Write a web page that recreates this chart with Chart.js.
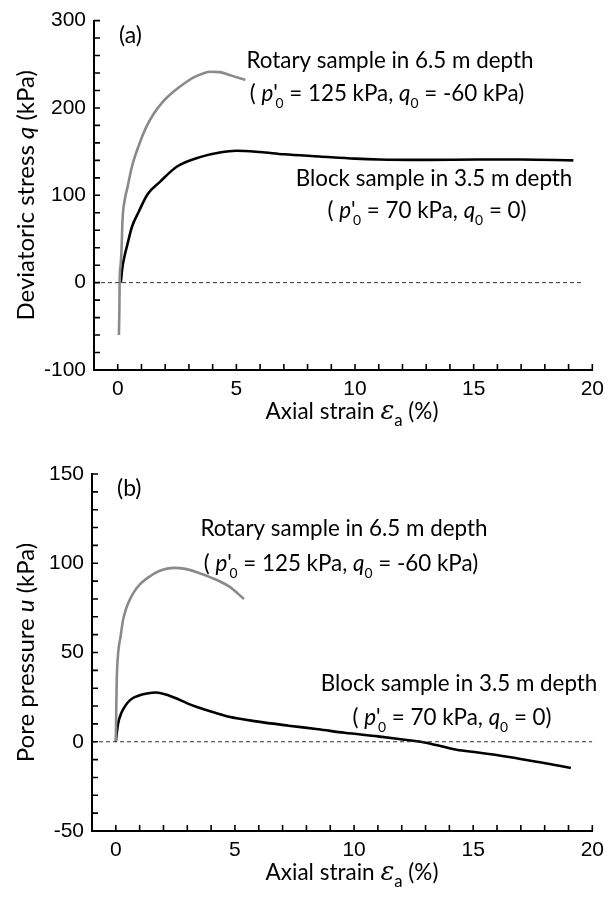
<!DOCTYPE html>
<html><head><meta charset="utf-8">
<script src="https://cdn.jsdelivr.net/npm/chart.js@4"></script>
<style>html,body{margin:0;padding:0;background:#fff;} canvas{display:block;}</style>
</head><body>
<canvas id="c1" width="611" height="440"></canvas>
<canvas id="c2" width="611" height="459"></canvas>
<script>
// ---------- DATA ----------
// (a) deviatoric stress q (kPa) vs axial strain (%)
const rotaryStrainQ = [0.05,0.07,0.08,0.12,0.16,0.2,0.29,0.41,0.6,0.9,1.2,1.53,1.9,2.37,2.8,3.2,3.6,3.9,4.3,4.8,5.38];
const rotaryQ       = [-60,-30,0,20,37,71,94,109,133,158,178,194,207,219,228,235,239.5,241.5,241,237,232];
const blockStrainQ  = [0.13,0.2,0.3,0.41,0.6,0.9,1.25,1.8,2.5,3.5,4.3,5.0,6.0,7.0,8.5,10,11,13,15.2,17,19.2];
const blockQ        = [0,18,32,44,64,82,101,116,133,144,149,151,149.5,147,144.5,142,141,140.5,141,141,140];
// (b) pore pressure u (kPa) vs axial strain (%)
const rotaryStrainU = [0,0.02,0.04,0.1,0.2,0.3,0.375,0.5,0.72,1.0,1.42,1.8,2.15,2.5,2.85,3.4,4.05,4.75,5.38];
const rotaryU       = [0,20,35,50,59,68,72,77,83,88,92.6,95.5,97,97.4,97,95,91.7,87,80];
const blockStrainU  = [0,0.05,0.1,0.2,0.3,0.5,0.72,1.0,1.3,1.7,2.1,2.5,3.0,3.5,4.1,4.75,5.9,7.25,8.5,9.6,11,12.2,12.8,13.5,14.3,15.2,16.5,17.8,19.1];
const blockU        = [0,6,10.5,15,18,22,24.5,26,27,27.6,26.5,24.5,21.5,19,16.5,14,11.4,9,7,5,3,1,0,-2,-4.5,-6,-8.5,-11.5,-14.7];
// axis ranges / ticks
const strainRange = [-1, 20];
const strainMajor = [0, 5, 10, 15, 20];
const qRange = [-100, 300];
const qMajor = [-100, 0, 100, 200, 300];
const uRange = [-50, 150];
const uMajor = [-50, 0, 50, 100, 150];
const zeroLineA = [-1, 19.6];
const zeroLineB = [-1, 20];

// ---------- HELPERS ----------
const zip = (xs, ys) => xs.map((x, i) => ({x, y: ys[i]}));
const ANN = 'Lato';

function drawRich(ctx, segs, cx, cy, size, fam, rotate) {
  const parts = segs.map(s => {
    const sz = (s.sub ? size * 0.62 : size) * (s.k || 1);
    const font = (s.it ? 'italic ' : '') + sz + 'px "' + (s.fam || fam) + '"';
    ctx.font = font;
    return Object.assign({}, s, {font, w: ctx.measureText(s.t).width});
  });
  let x = 0, prevW = 0; const pos = [];
  parts.forEach(p => {
    let px = x;
    if (p.back) { px = x - prevW * 0.55; x = Math.max(x, px + p.w); }
    else x += p.w;
    pos.push(px); prevW = p.w;
  });
  ctx.save();
  ctx.translate(cx, cy);
  if (rotate) ctx.rotate(-Math.PI / 2);
  ctx.fillStyle = '#000';
  ctx.textBaseline = 'alphabetic';
  ctx.textAlign = 'left';
  const x0 = -x / 2, base = size * 0.35;
  parts.forEach((p, i) => {
    ctx.font = p.font;
    ctx.fillText(p.t, x0 + pos[i], base + (p.sub ? size * 0.32 : 0));
  });
  ctx.restore();
}

function line2(p0, q0) {
  return [{t: '( '}, {t: 'p', it: true}, {t: "'"}, {t: '0', sub: true, back: true},
          {t: ' = ' + p0 + ', '}, {t: 'q', it: true}, {t: '0', sub: true}, {t: ' = ' + q0 + ')'}];
}

function makeChart(id, cfg) {
  const tickPlugin = {
    id: 'deco',
    afterDraw(chart) {
      const {ctx, chartArea: a, scales: {x, y}} = chart;
      ctx.save();
      ctx.strokeStyle = '#000';
      ctx.lineWidth = 1.6;
      ctx.beginPath();
      x.ticks.forEach(t => {
        if (t.value <= x.min) return;
        const px = x.getPixelForValue(t.value);
        ctx.moveTo(px, a.bottom); ctx.lineTo(px, a.bottom - 6);
      });
      y.ticks.forEach(t => {
        if (t.value <= y.min) return;
        const py = y.getPixelForValue(t.value);
        ctx.moveTo(a.left, py); ctx.lineTo(a.left + 6, py);
      });
      ctx.stroke();
      ctx.restore();
      // panel label
      ctx.save();
      ctx.fillStyle = '#000';
      ctx.font = '23px "' + ANN + '"';
      ctx.textBaseline = 'middle';
      ctx.fillText(cfg.panel, a.left + 25, a.top + 15);
      ctx.restore();
      // annotations
      cfg.notes.forEach(n => drawRich(ctx, n.segs, n.cx, n.cy, 22.4, ANN, false));
      // axis titles
      drawRich(ctx, [{t: 'Axial strain '}, {t: 'ε', it: true, fam: 'DejaVu Serif', k: 1.15}, {t: 'a', sub: true, k: 1.2}, {t: ' (%)'}],
               352, a.bottom + 41, 22.5, ANN, false);
      drawRich(ctx, cfg.ytitle, 26, (a.top + a.bottom) / 2, 24, ANN, true);
    }
  };
  const H = document.getElementById(id).height;
  return new Chart(document.getElementById(id), {
    type: 'line',
    data: {datasets: cfg.datasets},
    options: {
      responsive: false, animation: false,
      layout: {padding: {left: 0, right: 611 - cfg.area.right, top: cfg.area.top, bottom: 0}},
      plugins: {legend: {display: false}, tooltip: {enabled: false}},
      elements: {point: {radius: 0}},
      scales: {
        x: {
          type: 'linear', min: strainRange[0], max: strainRange[1],
          afterFit: s => { s.height = H - cfg.area.bottom; },
          grid: {display: false, drawTicks: false},
          border: {display: true, color: '#000', width: 2},
          ticks: {stepSize: 1, autoSkip: false, maxRotation: 0, minRotation: 0, padding: 7,
                  color: '#000', font: {family: 'Liberation Sans', size: 21},
                  callback: v => strainMajor.includes(v) ? String(v) : ''}
        },
        y: {
          type: 'linear', min: cfg.yRange[0], max: cfg.yRange[1],
          afterFit: s => { s.width = cfg.area.left; },
          grid: {display: false, drawTicks: false},
          border: {display: true, color: '#000', width: 2},
          ticks: {stepSize: cfg.yStep, autoSkip: false, padding: 8,
                  color: '#000', font: {family: 'Liberation Sans', size: 21},
                  callback: v => cfg.yMajor.includes(v) ? String(v) : ''}
        }
      }
    },
    plugins: [tickPlugin]
  });
}

const GRAY = '#8a8a8a';
const lineDs = (data, color) => ({data, borderColor: color, borderWidth: 2.6, fill: false,
  cubicInterpolationMode: 'monotone', pointRadius: 0});
const dashDs = xs => ({data: xs.map(x => ({x, y: 0})), borderColor: '#333', borderWidth: 1,
  borderDash: [4, 3], pointRadius: 0, fill: false});

makeChart('c1', {
  area: {left: 94, right: 593, top: 18, bottom: 370},
  yRange: qRange, yStep: 20, yMajor: qMajor, panel: '(a)',
  datasets: [dashDs(zeroLineA), lineDs(zip(rotaryStrainQ, rotaryQ), GRAY), lineDs(zip(blockStrainQ, blockQ), '#000')],
  notes: [
    {segs: [{t: 'Rotary sample in 6.5 m depth'}], cx: 390, cy: 60},
    {segs: line2('125 kPa', '-60 kPa'), cx: 387, cy: 93},
    {segs: [{t: 'Block sample in 3.5 m depth'}], cx: 434, cy: 178},
    {segs: line2('70 kPa', '0'), cx: 427, cy: 210}
  ],
  ytitle: [{t: 'Deviatoric stress '}, {t: 'q', it: true}, {t: ' (kPa)'}]
});

makeChart('c2', {
  area: {left: 92, right: 596, top: 34, bottom: 391},
  yRange: uRange, yStep: 10, yMajor: uMajor, panel: '(b)',
  datasets: [dashDs(zeroLineB), lineDs(zip(rotaryStrainU, rotaryU), GRAY), lineDs(zip(blockStrainU, blockU), '#000')],
  notes: [
    {segs: [{t: 'Rotary sample in 6.5 m depth'}], cx: 344, cy: 88},
    {segs: line2('125 kPa', '-60 kPa'), cx: 341, cy: 123},
    {segs: [{t: 'Block sample in 3.5 m depth'}], cx: 459, cy: 243},
    {segs: line2('70 kPa', '0'), cx: 452, cy: 277}
  ],
  ytitle: [{t: 'Pore pressure '}, {t: 'u', it: true}, {t: ' (kPa)'}]
});
</script>
</body></html>
